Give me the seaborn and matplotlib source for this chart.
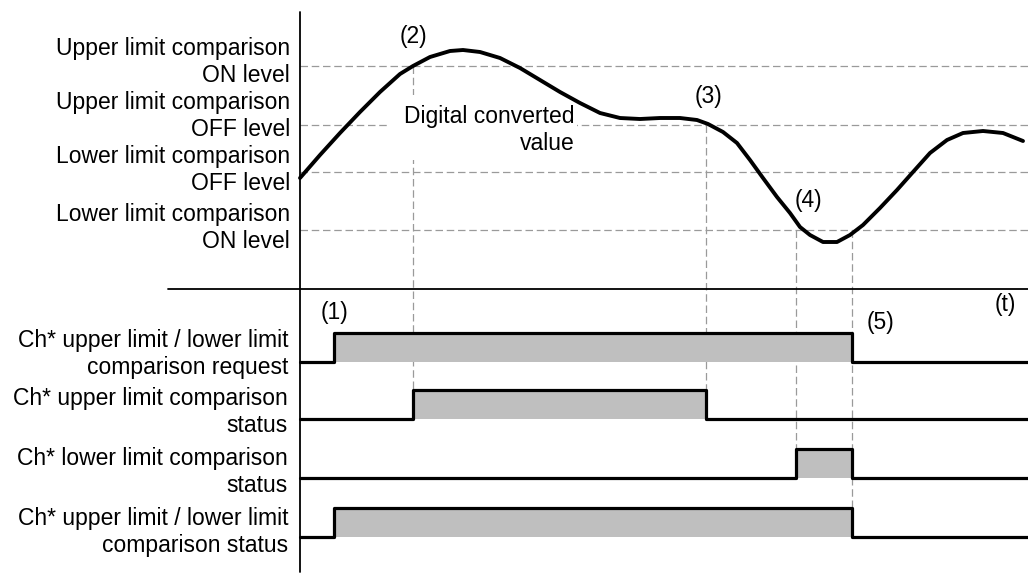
import matplotlib
matplotlib.use("Agg")
import matplotlib.pyplot as plt
import matplotlib.patches as mpatches
import numpy as np
import pandas as pd
import seaborn as sns

# ---------------- data ----------------
# Digital converted value (analog curve), time in arbitrary units
curve_t = [0, 20, 40, 60, 80, 100, 113, 130, 150, 163, 180, 200, 220, 240,
           260, 280, 300, 320, 340, 360, 380, 397, 408, 423, 437, 450, 463,
           477, 490, 500, 510, 523, 537, 550, 563, 580, 597, 613, 630, 647,
           663, 683, 703, 723]
curve_v = [112, 135, 157, 178, 198, 216, 224, 233, 239, 240, 238, 232, 222,
           210, 198, 187, 177, 172, 171, 172, 172, 170, 166, 158, 147, 130,
           112, 93, 77, 63, 55, 48, 48, 55, 65, 82, 100, 118, 137, 150, 157,
           159, 157, 149]

level_names = ["Upper limit comparison\nON level",
               "Upper limit comparison\nOFF level",
               "Lower limit comparison\nOFF level",
               "Lower limit comparison\nON level"]
level_values = [224, 165, 118, 60]

signal_names = ["Ch* upper limit / lower limit\ncomparison request",
                "Ch* upper limit comparison\nstatus",
                "Ch* lower limit comparison\nstatus",
                "Ch* upper limit / lower limit\ncomparison status"]
# transition times and states (state held until next time)
sig_request_t = [0, 34, 552, 728]
sig_request_s = [0, 1, 0, 0]
sig_upper_t = [0, 113, 406, 728]
sig_upper_s = [0, 1, 0, 0]
sig_lower_t = [0, 496, 552, 728]
sig_lower_s = [0, 1, 0, 0]
sig_both_t = [0, 34, 552, 728]
sig_both_s = [0, 1, 0, 0]

event_labels = ["(1)", "(2)", "(3)", "(4)", "(5)"]
event_times = [34, 113, 406, 496, 552]

# ---------------- layout ----------------
T_END = 728
lane_base = [-72, -129, -188, -247]
lane_h = 29
FS = 16.5
LS = 1.18
GRAY_FILL = "#bfbfbf"
DASH_C = "#9a9a9a"
DASH = (0, (6, 3))

sns.set_style("white")
plt.rcParams["font.family"] = ["Liberation Sans", "DejaVu Sans"]
plt.rcParams["text.color"] = "black"

fig = plt.figure(figsize=(10.28, 5.74), dpi=100)
ax = fig.add_axes([0, 0, 1, 1])
ax.set_xlim(-300, T_END)
ax.set_ylim(-284, 290)
ax.axis("off")

# axes lines
ax.plot([0, 0], [278, -282], color="black", lw=1.3, zorder=3)
ax.plot([-132, T_END], [1, 1], color="black", lw=1.3, zorder=3)

# level dashed lines
for lv in level_values:
    ax.plot([0, T_END], [lv, lv], color=DASH_C, lw=0.9, ls=DASH, zorder=1)

# vertical dashed guide lines
ax.plot([event_times[1]] * 2, [level_values[0], lane_base[1] + lane_h],
        color=DASH_C, lw=0.9, ls=DASH, zorder=1)
ax.plot([event_times[2]] * 2, [level_values[1], lane_base[1] + lane_h],
        color=DASH_C, lw=0.9, ls=DASH, zorder=1)
ax.plot([event_times[3]] * 2, [level_values[3], lane_base[2] + lane_h],
        color=DASH_C, lw=0.9, ls=DASH, zorder=1)
ax.plot([event_times[4]] * 2, [level_values[3], lane_base[3] + lane_h],
        color=DASH_C, lw=0.9, ls=DASH, zorder=1)

# white box behind the curve label
ax.add_patch(mpatches.Rectangle((88, 130), 189, 65, facecolor="white",
                                edgecolor="none", zorder=2))
ax.text(275, 160, "Digital converted\nvalue", ha="right", va="center",
        multialignment="right", fontsize=FS, linespacing=LS, zorder=4)

# analog curve
df_curve = pd.DataFrame({"t": curve_t, "v": curve_v})
sns.lineplot(data=df_curve, x="t", y="v", ax=ax, color="black", lw=2.8,
             sort=False, estimator=None, zorder=5)

# level labels
for name, lv in zip(level_names, [228, 174, 120, 62]):
    ax.text(-10, lv, name, ha="right", va="center", multialignment="right",
            fontsize=FS, linespacing=LS)

# digital signals
signals = [(sig_request_t, sig_request_s), (sig_upper_t, sig_upper_s),
           (sig_lower_t, sig_lower_s), (sig_both_t, sig_both_s)]
label_y = [-64, -122, -182, -242]
for (ts, ss), base, name, ly in zip(signals, lane_base, signal_names, label_y):
    ys = [base + lane_h * s for s in ss]
    ax.fill_between(ts, base, ys, step="post", color=GRAY_FILL, lw=0, zorder=2)
    df_sig = pd.DataFrame({"t": ts, "y": ys})
    sns.lineplot(data=df_sig, x="t", y="y", ax=ax, color="black", lw=2.3,
                 drawstyle="steps-post", sort=False, estimator=None, zorder=4)
    ax.text(-12, ly, name, ha="right", va="center", multialignment="right",
            fontsize=FS, linespacing=LS)

# event labels
event_pos = [(34, -23), (113, 253), (408, 193), (508, 90), (580, -32)]
for lab, (x, y) in zip(event_labels, event_pos):
    ax.text(x, y, lab, ha="center", va="center", fontsize=FS)
ax.text(705, -15, "(t)", ha="center", va="center", fontsize=FS)

fig.savefig("out.png", dpi=100)
